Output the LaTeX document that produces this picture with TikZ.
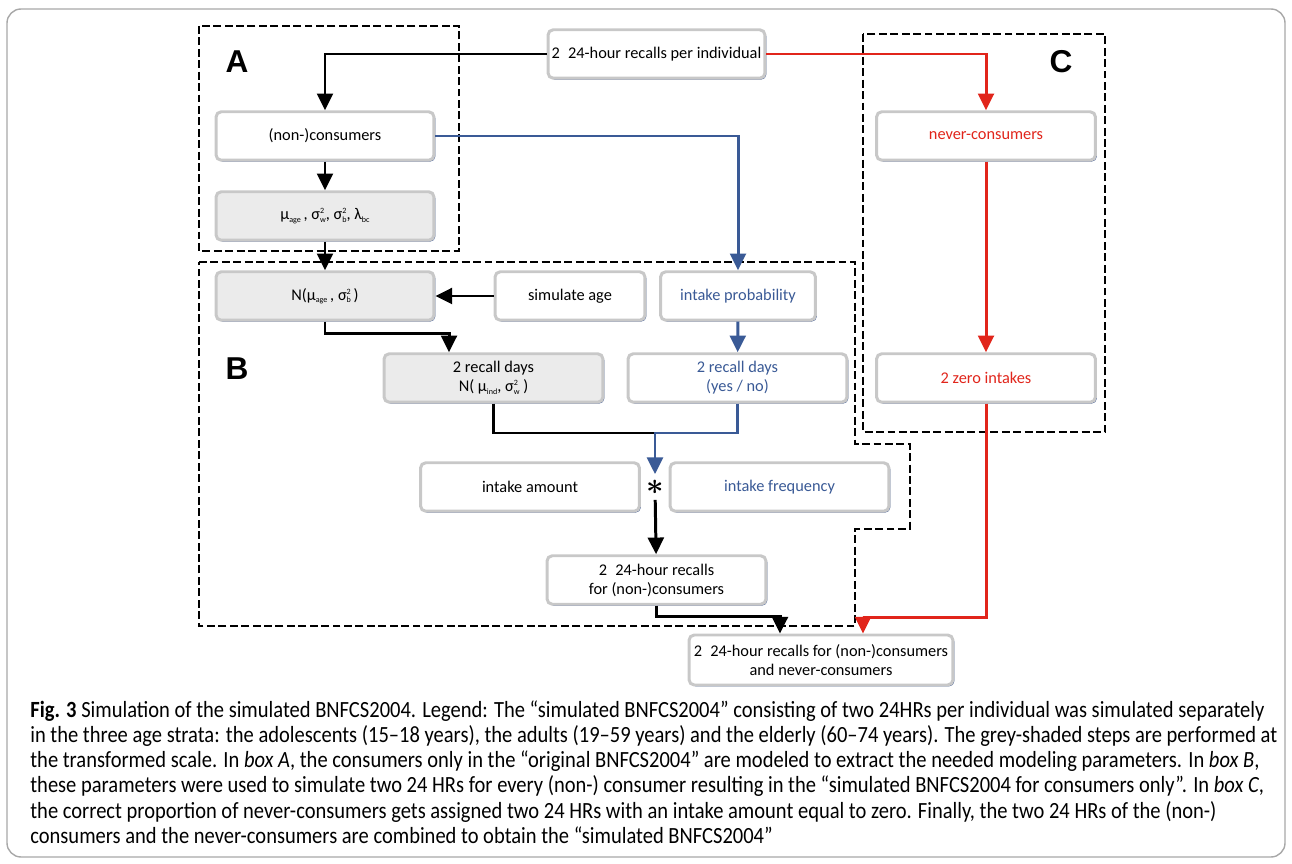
\documentclass[tikz,border=0pt]{standalone}
\usepackage{amsmath}
\usepackage{fontspec}
\setmainfont{Carlito}
\newfontfamily\capfont[FakeStretch=0.885]{Carlito}
\newfontfamily\lblfont{Liberation Sans}
\usepackage{tikz}
\usetikzlibrary{arrows.meta,shadows}
\definecolor{boxgray}{HTML}{C8C8C8}
\definecolor{stepgray}{HTML}{EBEBEB}
\definecolor{shblue}{HTML}{4A6396}
\definecolor{flowblue}{HTML}{3A5A96}
\definecolor{flowred}{HTML}{E1251B}
\definecolor{framegray}{HTML}{A8A8A8}
\newcommand\boxfont{\fontsize{9.3}{10.8}\selectfont}
\newcommand\tinyscr{\fontsize{4.6}{5}\selectfont}
\newcommand\sq[2]{\rlap{\raisebox{3.4pt}{\tinyscr #1}}\raisebox{-1.3pt}{\tinyscr #2}}

\begin{document}
\begin{tikzpicture}[x=0.02cm, y=-0.02cm,
  stepbox/.style={draw=boxgray, line width=1.7pt, rounded corners=3pt, fill=white,
    minimum height=0.97cm, inner sep=1pt, align=center, font=\boxfont,
    drop shadow={shadow xshift=0.8pt, shadow yshift=-0.8pt, fill=shblue, opacity=1}},
  greystep/.style={stepbox, fill=stepgray},
  flow/.style={line width=1.7pt, -{Triangle[width=9pt,length=9.5pt]}},
  frame/.style={line width=1.2pt, dash pattern=on 4.5pt off 2pt},
  boxlabel/.style={font=\lblfont\bfseries\fontsize{18}{18}\selectfont}]
  \useasboundingbox (0,0) rectangle (1292,864);
  \draw[framegray, line width=0.8pt, rounded corners=8pt] (7,9) rectangle (1285,857);

  \draw[frame] (199,26) rectangle (459,251);
  \draw[frame] (199,262) -- (855,262) -- (855,444) -- (910,444) -- (910,529)
    -- (855,529) -- (855,626) -- (199,626) -- cycle;
  \draw[frame] (863,34) rectangle (1105,432);
  \node[boxlabel] (lblA) at (237,62) {A};
  \node[boxlabel] (lblB) at (237,369) {B};
  \node[boxlabel] (lblC) at (1061,62) {C};

  \node[stepbox, minimum width=4.34cm] (recind) at (656.5,54) {2\enspace 24-hour recalls per individual};
  \node[stepbox, minimum width=4.36cm] (nonc) at (325,136) {(non-)consumers};
  \node[greystep, minimum width=4.36cm] (param) at (325,216)
    {μ\raisebox{-1.3pt}{\tinyscr age}\,, σ\sq{2}{w}, σ\sq{2}{b}, λ\raisebox{-1.3pt}{\tinyscr bc}};
  \node[greystep, minimum width=4.36cm] (nage) at (325,296) {N(μ\raisebox{-1.3pt}{\tinyscr age}\,, σ\sq{2}{b}\,)};
  \node[stepbox, minimum width=3.0cm] (simage) at (570,296) {simulate age};
  \node[stepbox, minimum width=3.1cm, text=flowblue] (prob) at (738,296) {intake probability};
  \node[greystep, minimum width=4.38cm] (rdays) at (493.5,378) {2 recall days\\N( μ\raisebox{-1.3pt}{\tinyscr ind}, σ\sq{2}{w} )};
  \node[stepbox, minimum width=4.38cm, text=flowblue] (yesno) at (737.5,378) {2 recall days\\(yes / no)};
  \node[stepbox, minimum width=4.38cm] (amount) at (530,487) {intake amount};
  \node[inner sep=0pt, minimum size=0.5cm, font=\LARGE] (ast) at (655,487) {$\boldsymbol{\ast}$};
  \node[stepbox, minimum width=4.38cm, text=flowblue] (freq) at (779.5,487) {intake frequency};
  \node[stepbox, minimum width=4.38cm] (recnc) at (656.5,580) {2\enspace 24-hour recalls\\for (non-)consumers};
  \node[stepbox, minimum width=5.28cm, minimum height=1cm] (final) at (821,660)
    {2\enspace 24-hour recalls for (non-)consumers\\and never-consumers};
  \node[stepbox, minimum width=4.38cm, text=flowred] (never) at (986,136) {never-consumers};
  \node[stepbox, minimum width=4.38cm, text=flowred] (zero) at (986,378) {2 zero intakes};

  \draw[flow] (recind.west) -| (nonc.north);
  \draw[flow] (nonc) -- (param);
  \draw[flow] (param) -- (nage);
  \draw[flow] (simage) -- (nage);
  \draw[flow] (nage.south) -- ++(0,12) -| ([xshift=-0.89cm]rdays.north);
  \draw[flow, flowblue] (nonc.east) -| (prob.north);
  \draw[flow, flowblue] (prob) -- (yesno);
  \coordinate (merge) at (655,433);
  \draw[line width=1.7pt] (rdays.south) |- (merge);
  \draw[flow, flowblue] (yesno.south) |- (merge) -- (ast.north);
  \draw[flow] (ast) -- (recnc);
  \draw[flow] (recnc.south) -- ++(0,11) -| ([xshift=-0.82cm]final.north);
  \draw[flow, flowred] (recind.east) -| (never.north);
  \draw[flow, flowred] (never) -- (zero);
  \draw[flow, flowred] (zero.south) -- ++(0,214) -| ([xshift=0.84cm]final.north);

  \node[anchor=north west, inner sep=0pt, align=left, font={\capfont\fontsize{13.2}{14.4}\selectfont}] (capt) at (30,700)
    {\textbf{Fig. 3} Simulation of the simulated BNFCS2004. Legend: The “simulated BNFCS2004” consisting of two 24HRs per individual was simulated separately\\
     in the three age strata: the adolescents (15–18 years), the adults (19–59 years) and the elderly (60–74 years). The grey-shaded steps are performed at\\
     the transformed scale. In \textit{box A}, the consumers only in the “original BNFCS2004” are modeled to extract the needed modeling parameters. In \textit{box B},\\
     these parameters were used to simulate two 24 HRs for every (non-) consumer resulting in the “simulated BNFCS2004 for consumers only”. In \textit{box C},\\
     the correct proportion of never-consumers gets assigned two 24 HRs with an intake amount equal to zero. Finally, the two 24 HRs of the (non-)\\
     consumers and the never-consumers are combined to obtain the “simulated BNFCS2004”};
\end{tikzpicture}
\end{document}
